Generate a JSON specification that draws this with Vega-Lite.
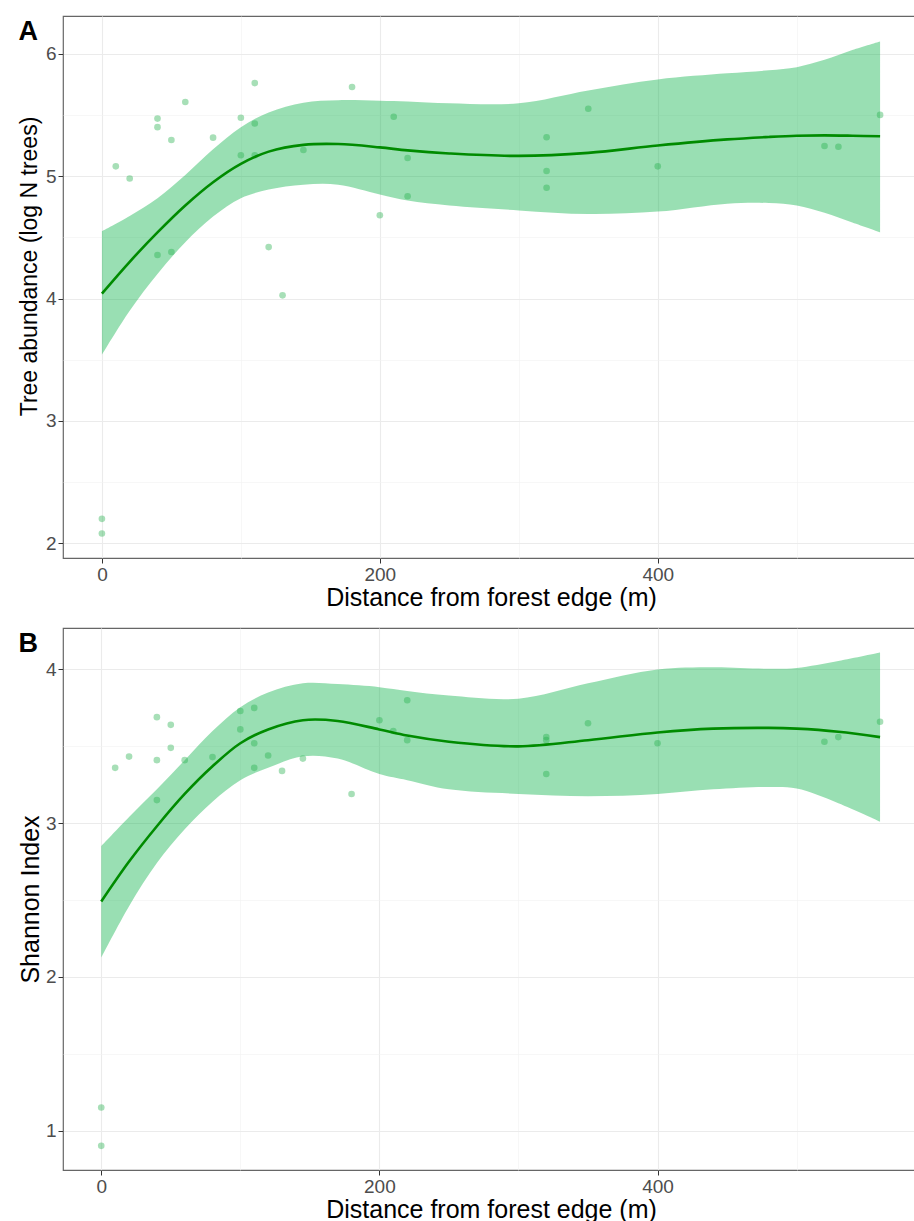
{
  "$schema": "https://vega.github.io/schema/vega-lite/v6.json",
  "padding": {"left": 17, "top": 15, "right": 0, "bottom": 0},
  "spacing": 16,
  "background": "white",
  "config": {
    "font": "Liberation Sans",
    "view": {"stroke": "#666666", "strokeWidth": 1.2},
    "axis": {
      "domain": false,
      "grid": true,
      "gridColor": "#EBEBEB",
      "tickColor": "#333333",
      "tickSize": 5,
      "labelFont": "Liberation Sans",
      "labelFontSize": 19,
      "labelColor": "#4D4D4D",
      "labelPadding": 2,
      "titleFont": "Liberation Sans",
      "titleFontWeight": "normal",
      "titleColor": "black"
    },
    "axisX": {"titleFontSize": 25, "titlePadding": 1}
  },
  "datasets": {
    "curveA": [
      {"d": 0, "fit": 4.04, "lo": 3.54, "hi": 4.55},
      {"d": 20, "fit": 4.30, "lo": 3.90, "hi": 4.675},
      {"d": 40, "fit": 4.54, "lo": 4.20, "hi": 4.82},
      {"d": 60, "fit": 4.76, "lo": 4.46, "hi": 5.01},
      {"d": 80, "fit": 4.95, "lo": 4.67, "hi": 5.22},
      {"d": 100, "fit": 5.10, "lo": 4.82, "hi": 5.40},
      {"d": 120, "fit": 5.20, "lo": 4.89, "hi": 5.52},
      {"d": 145, "fit": 5.255, "lo": 4.93, "hi": 5.60},
      {"d": 170, "fit": 5.262, "lo": 4.93, "hi": 5.62},
      {"d": 200, "fit": 5.235, "lo": 4.85, "hi": 5.615},
      {"d": 220, "fit": 5.21, "lo": 4.80, "hi": 5.61},
      {"d": 250, "fit": 5.185, "lo": 4.76, "hi": 5.595},
      {"d": 300, "fit": 5.165, "lo": 4.72, "hi": 5.595},
      {"d": 350, "fit": 5.19, "lo": 4.69, "hi": 5.70},
      {"d": 400, "fit": 5.25, "lo": 4.71, "hi": 5.79},
      {"d": 450, "fit": 5.30, "lo": 4.775, "hi": 5.84},
      {"d": 480, "fit": 5.32, "lo": 4.78, "hi": 5.865},
      {"d": 500, "fit": 5.33, "lo": 4.76, "hi": 5.89},
      {"d": 520, "fit": 5.333, "lo": 4.70, "hi": 5.95},
      {"d": 540, "fit": 5.33, "lo": 4.62, "hi": 6.03},
      {"d": 560, "fit": 5.325, "lo": 4.54, "hi": 6.10}
    ],
    "ptsA": [
      {"d": 0, "v": 2.20}, {"d": 0, "v": 2.08}, {"d": 10, "v": 5.08}, {"d": 20, "v": 4.98},
      {"d": 40, "v": 5.47}, {"d": 40, "v": 5.40}, {"d": 40, "v": 4.355}, {"d": 50, "v": 5.295},
      {"d": 50, "v": 4.38}, {"d": 60, "v": 5.605}, {"d": 80, "v": 5.314}, {"d": 100, "v": 5.477},
      {"d": 100, "v": 5.17}, {"d": 110, "v": 5.76}, {"d": 110, "v": 5.43}, {"d": 110, "v": 5.17},
      {"d": 120, "v": 4.42}, {"d": 130, "v": 4.026}, {"d": 145, "v": 5.213}, {"d": 180, "v": 5.728},
      {"d": 200, "v": 4.68}, {"d": 210, "v": 5.485}, {"d": 220, "v": 5.148}, {"d": 220, "v": 4.835},
      {"d": 320, "v": 5.317}, {"d": 320, "v": 5.042}, {"d": 320, "v": 4.905}, {"d": 350, "v": 5.55},
      {"d": 400, "v": 5.08}, {"d": 520, "v": 5.246}, {"d": 530, "v": 5.24}, {"d": 560, "v": 5.50}
    ],
    "curveB": [
      {"d": 0, "fit": 2.49, "lo": 2.125, "hi": 2.85},
      {"d": 20, "fit": 2.75, "lo": 2.46, "hi": 3.04},
      {"d": 40, "fit": 2.98, "lo": 2.74, "hi": 3.22},
      {"d": 60, "fit": 3.19, "lo": 2.96, "hi": 3.41},
      {"d": 80, "fit": 3.37, "lo": 3.14, "hi": 3.60},
      {"d": 100, "fit": 3.52, "lo": 3.28, "hi": 3.755},
      {"d": 120, "fit": 3.61, "lo": 3.36, "hi": 3.85},
      {"d": 145, "fit": 3.67, "lo": 3.435, "hi": 3.91},
      {"d": 170, "fit": 3.665, "lo": 3.42, "hi": 3.905},
      {"d": 200, "fit": 3.61, "lo": 3.32, "hi": 3.885},
      {"d": 220, "fit": 3.57, "lo": 3.28, "hi": 3.86},
      {"d": 250, "fit": 3.53, "lo": 3.22, "hi": 3.83},
      {"d": 300, "fit": 3.50, "lo": 3.19, "hi": 3.81},
      {"d": 350, "fit": 3.54, "lo": 3.175, "hi": 3.91},
      {"d": 400, "fit": 3.59, "lo": 3.19, "hi": 4.00},
      {"d": 440, "fit": 3.615, "lo": 3.22, "hi": 4.015},
      {"d": 480, "fit": 3.62, "lo": 3.235, "hi": 4.005},
      {"d": 500, "fit": 3.615, "lo": 3.225, "hi": 4.01},
      {"d": 530, "fit": 3.595, "lo": 3.13, "hi": 4.055},
      {"d": 560, "fit": 3.56, "lo": 3.01, "hi": 4.11}
    ],
    "ptsB": [
      {"d": 0, "v": 1.15}, {"d": 0, "v": 0.90}, {"d": 10, "v": 3.36}, {"d": 20, "v": 3.433},
      {"d": 40, "v": 3.69}, {"d": 40, "v": 3.41}, {"d": 40, "v": 3.15}, {"d": 50, "v": 3.64},
      {"d": 50, "v": 3.49}, {"d": 60, "v": 3.41}, {"d": 80, "v": 3.43}, {"d": 100, "v": 3.73},
      {"d": 100, "v": 3.61}, {"d": 110, "v": 3.75}, {"d": 110, "v": 3.52}, {"d": 110, "v": 3.36},
      {"d": 120, "v": 3.44}, {"d": 130, "v": 3.34}, {"d": 145, "v": 3.42}, {"d": 180, "v": 3.19},
      {"d": 200, "v": 3.67}, {"d": 210, "v": 3.60}, {"d": 220, "v": 3.80}, {"d": 220, "v": 3.54},
      {"d": 320, "v": 3.56}, {"d": 320, "v": 3.54}, {"d": 320, "v": 3.32}, {"d": 350, "v": 3.65},
      {"d": 400, "v": 3.52}, {"d": 520, "v": 3.53}, {"d": 530, "v": 3.56}, {"d": 560, "v": 3.66}
    ]
  },
  "vconcat": [
    {
      "width": 856,
      "height": 542,
      "title": {"text": "A", "anchor": "start", "frame": "bounds", "fontSize": 27, "fontWeight": "bold", "color": "black", "font": "Liberation Sans", "offset": -30},
      "encoding": {
        "x": {
          "field": "d", "type": "quantitative",
          "scale": {"domain": [-28, 588], "nice": false, "zero": false},
          "axis": {
            "title": "Distance from forest edge (m)",
            "values": [0, 100, 200, 300, 400, 500],
            "labelExpr": "datum.value % 200 == 0 ? format(datum.value, 'd') : ''",
            "tickOpacity": {"condition": {"test": "datum.value % 200 == 0", "value": 1}, "value": 0},
            "gridWidth": {"condition": {"test": "datum.value % 200 == 0", "value": 1.1}, "value": 0.6},
            "gridColor": {"condition": {"test": "datum.value % 200 == 0", "value": "#EBEBEB"}, "value": "#F2F2F2"}
          }
        }
      },
      "layer": [
        {
          "data": {"name": "curveA"},
          "mark": {"type": "area", "interpolate": "catmull-rom", "color": "#00b040", "opacity": 0.4},
          "encoding": {
            "y": {
              "field": "lo", "type": "quantitative",
              "scale": {"domain": [1.88, 6.308], "nice": false, "zero": false},
              "axis": {
                "title": "Tree abundance (log N trees)",
                "titleFontSize": 23,
                "titlePadding": 4,
                "titleY": 250,
                "values": [2, 2.5, 3, 3.5, 4, 4.5, 5, 5.5, 6],
                "labelExpr": "datum.value % 1 == 0 ? format(datum.value, 'd') : ''",
                "tickOpacity": {"condition": {"test": "datum.value % 1 == 0", "value": 1}, "value": 0},
                "gridWidth": {"condition": {"test": "datum.value % 1 == 0", "value": 1.1}, "value": 0.6},
                "gridColor": {"condition": {"test": "datum.value % 1 == 0", "value": "#EBEBEB"}, "value": "#F2F2F2"}
              }
            },
            "y2": {"field": "hi"}
          }
        },
        {
          "data": {"name": "ptsA"},
          "mark": {"type": "circle", "size": 44, "color": "#22b04a", "opacity": 0.4},
          "encoding": {"y": {"field": "v", "type": "quantitative"}}
        },
        {
          "data": {"name": "curveA"},
          "mark": {"type": "line", "interpolate": "catmull-rom", "color": "#008B00", "strokeWidth": 2.6},
          "encoding": {"y": {"field": "fit", "type": "quantitative"}}
        }
      ]
    },
    {
      "width": 856,
      "height": 542,
      "title": {"text": "B", "anchor": "start", "frame": "bounds", "fontSize": 27, "fontWeight": "bold", "color": "black", "font": "Liberation Sans", "offset": -30},
      "encoding": {
        "x": {
          "field": "d", "type": "quantitative",
          "scale": {"domain": [-27.5, 588], "nice": false, "zero": false},
          "axis": {
            "title": "Distance from forest edge (m)",
            "values": [0, 100, 200, 300, 400, 500],
            "labelExpr": "datum.value % 200 == 0 ? format(datum.value, 'd') : ''",
            "tickOpacity": {"condition": {"test": "datum.value % 200 == 0", "value": 1}, "value": 0},
            "gridWidth": {"condition": {"test": "datum.value % 200 == 0", "value": 1.1}, "value": 0.6},
            "gridColor": {"condition": {"test": "datum.value % 200 == 0", "value": "#EBEBEB"}, "value": "#F2F2F2"}
          }
        }
      },
      "layer": [
        {
          "data": {"name": "curveB"},
          "mark": {"type": "area", "interpolate": "catmull-rom", "color": "#00b040", "opacity": 0.4},
          "encoding": {
            "y": {
              "field": "lo", "type": "quantitative",
              "scale": {"domain": [0.743, 4.27], "nice": false, "zero": false},
              "axis": {
                "title": "Shannon Index",
                "titleFontSize": 25,
                "titlePadding": 2,
                "values": [1, 1.5, 2, 2.5, 3, 3.5, 4],
                "labelExpr": "datum.value % 1 == 0 ? format(datum.value, 'd') : ''",
                "tickOpacity": {"condition": {"test": "datum.value % 1 == 0", "value": 1}, "value": 0},
                "gridWidth": {"condition": {"test": "datum.value % 1 == 0", "value": 1.1}, "value": 0.6},
                "gridColor": {"condition": {"test": "datum.value % 1 == 0", "value": "#EBEBEB"}, "value": "#F2F2F2"}
              }
            },
            "y2": {"field": "hi"}
          }
        },
        {
          "data": {"name": "ptsB"},
          "mark": {"type": "circle", "size": 44, "color": "#22b04a", "opacity": 0.4},
          "encoding": {"y": {"field": "v", "type": "quantitative"}}
        },
        {
          "data": {"name": "curveB"},
          "mark": {"type": "line", "interpolate": "catmull-rom", "color": "#008B00", "strokeWidth": 2.6},
          "encoding": {"y": {"field": "fit", "type": "quantitative"}}
        }
      ]
    }
  ]
}
